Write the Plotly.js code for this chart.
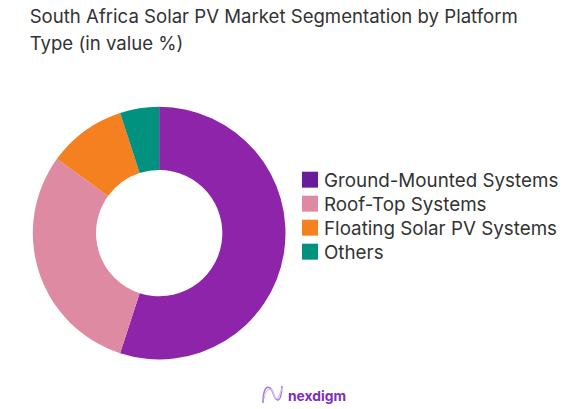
<!DOCTYPE html>
<html><head><meta charset="utf-8">
<script src="https://cdn.plot.ly/plotly-3.0.1.min.js"></script>
<style>html,body{margin:0;padding:0;background:#fff}</style></head>
<body><div id="c" style="width:571px;height:409px"></div>
<script>
var categories=["Ground-Mounted Systems","Roof-Top Systems","Floating Solar PV Systems","Others"];
var shares=[55,30,10,5];
var colors=["#8E24AA","#DE8AA3","#F58020","#00917F"];
var swatchColors=["#6A1B9A","#DE8AA3","#F58020","#00917F"];
var chartTitle="South Africa Solar PV Market Segmentation by Platform<br>Type (in value %)";
var font="Inter, 'Open Sans', sans-serif";
var ink="#333333";
function px(x){return x/571}
function py(y){return 1-y/409}
function curve(a){
  return "M "+px(a[0])+" "+py(a[1])+" C "+px(a[2])+" "+py(a[3])+" "+px(a[4])+" "+py(a[5])+" "+px(a[6])+" "+py(a[7])+
   " C "+px(a[8])+" "+py(a[9])+" "+px(a[10])+" "+py(a[11])+" "+px(a[12])+" "+py(a[13]);
}
var logoA=[263,403,263,384,270,384,273,393,276,402,281,405,282,386];
var logoB=[264,399,266,386,272,388,274,395,276,402,279,398,282,388];
Plotly.newPlot("c",[{type:"pie",labels:categories,values:shares,hole:0.5,sort:false,direction:"clockwise",rotation:0,
marker:{colors:colors,line:{width:0}},textinfo:"none",hoverinfo:"label+percent",domain:{x:[0.0575,0.5],y:[0.12,0.74]}}],
{width:571,height:409,margin:{l:0,r:0,t:0,b:0},paper_bgcolor:"#fff",showlegend:true,
title:{text:chartTitle,x:0.052,xanchor:"left",y:0.943,yanchor:"bottom",font:{family:font,size:18.6,color:ink}},
legend:{x:284/571,y:0.472,xanchor:"left",yanchor:"middle",bgcolor:"rgba(0,0,0,0)",traceorder:"normal",font:{family:font,size:18.8,color:ink},itemsizing:"constant"},
shapes:[{type:"path",xref:"paper",yref:"paper",path:curve(logoA),line:{color:"#A678E2",width:1.5}},
{type:"path",xref:"paper",yref:"paper",path:curve(logoB),line:{color:"#D9BDF2",width:1.2}}],
annotations:[{text:"<b>nexdigm</b>",x:317/571,y:py(396),xref:"paper",yref:"paper",xanchor:"center",yanchor:"middle",showarrow:false,font:{family:font,size:13.8,color:"#7B2FBE"}}]
},{displayModeBar:false}).then(function(){
  var gd=document.getElementById("c");
  var rows=gd.querySelectorAll(".legend .traces");
  var y0=null;
  rows.forEach(function(t,i){
    var m=/translate\(([^,]+),\s*([^)]+)\)/.exec(t.getAttribute("transform")||"");
    if(m){ if(y0===null) y0=parseFloat(m[2])+5; t.setAttribute("transform","translate("+m[1]+","+(y0+i*24)+")"); }
    var p=t.querySelector(".legendpie path, .legendpoints path");
    if(p){p.setAttribute("transform","translate(26,0) scale(1.33)");p.style.fill=swatchColors[i];p.style.strokeWidth="0";}
  });
  var lines=gd.querySelectorAll(".gtitle tspan.line");
  if(lines.length>1){ var y=parseFloat(lines[1].getAttribute("y")); lines[1].setAttribute("y",y+3); }
});
</script></body></html>
